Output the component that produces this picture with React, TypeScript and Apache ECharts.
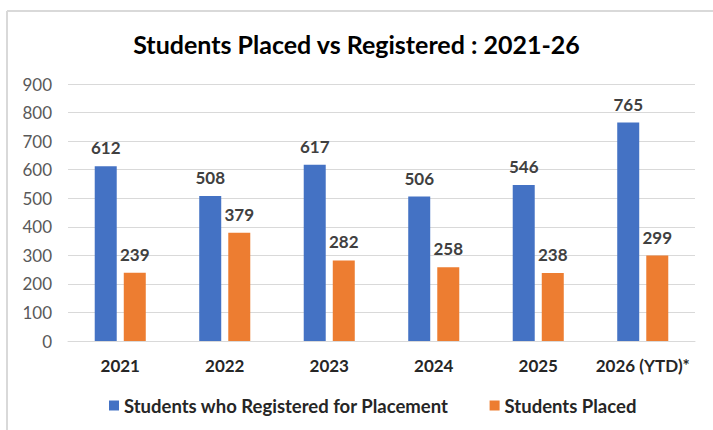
import React, { useEffect, useRef } from "react";
import * as echarts from "echarts";

const categories = ["2021", "2022", "2023", "2024", "2025", "2026 (YTD)*"];
const registered = [612, 508, 617, 506, 546, 765];
const placed = [239, 379, 282, 258, 238, 299];
const seriesNames = ["Students who Registered for Placement", "Students Placed"];
const titleText = "Students Placed vs Registered : 2021-26";

const FONT = "Lato, 'Open Sans', sans-serif";

export default function App() {
  const ref = useRef<HTMLDivElement>(null);
  useEffect(() => {
    if (!ref.current) return;
    const chart = echarts.init(ref.current, undefined, { renderer: "svg" });
    const label = {
      show: true,
      position: "top" as const,
      distance: 10,
      color: "#404040",
      fontSize: 17,
      fontWeight: "bold" as const,
      fontFamily: FONT,
    };
    chart.setOption({
      animation: false,
      backgroundColor: "#ffffff",
      title: {
        text: titleText,
        left: "center",
        top: 26,
        textStyle: { fontFamily: FONT, fontSize: 25, fontWeight: "bold", color: "#000000" },
      },
      legend: {
        bottom: 10,
        left: 104,
        itemWidth: 10,
        itemHeight: 10,
        itemGap: 41,
        icon: "rect",
        textStyle: { fontFamily: FONT, fontSize: 18.5, fontWeight: "bold", color: "#262626" },
        data: seriesNames,
      },
      grid: { left: 68, right: 18, top: 84, bottom: 89, containLabel: false },
      xAxis: {
        type: "category",
        data: categories,
        axisLine: { show: true, lineStyle: { color: "#d9d9d9" } },
        axisTick: { show: false },
        axisLabel: { interval: 0, margin: 16, fontFamily: FONT, fontSize: 17, fontWeight: "bold", color: "#262626" },
      },
      yAxis: {
        type: "value",
        min: 0,
        max: 900,
        interval: 100,
        axisLine: { show: false },
        axisTick: { show: false },
        splitLine: { lineStyle: { color: "#d9d9d9" } },
        axisLabel: { margin: 16, fontFamily: FONT, fontSize: 17, color: "#595959" },
      },
      series: [
        {
          name: seriesNames[0],
          type: "bar",
          data: registered,
          barWidth: 22,
          barGap: "32%",
          itemStyle: { color: "#4472C4" },
          label,
        },
        {
          name: seriesNames[1],
          type: "bar",
          data: placed,
          barWidth: 22,
          barGap: "32%",
          itemStyle: { color: "#ED7D31" },
          label,
        },
      ],
      graphic: [
        { type: "line", shape: { x1: 7, y1: 11, x2: 713, y2: 11 }, style: { stroke: "#d9d9d9", lineWidth: 2 } },
        { type: "line", shape: { x1: 7, y1: 11, x2: 7, y2: 430 }, style: { stroke: "#d9d9d9", lineWidth: 2 } },
      ],
    });
    return () => chart.dispose();
  }, []);
  return (
    <div style={{ position: "absolute", left: 0, top: 0, width: 713, height: 430 }}>
      <div ref={ref} style={{ width: 713, height: 430 }} />
    </div>
  );
}
